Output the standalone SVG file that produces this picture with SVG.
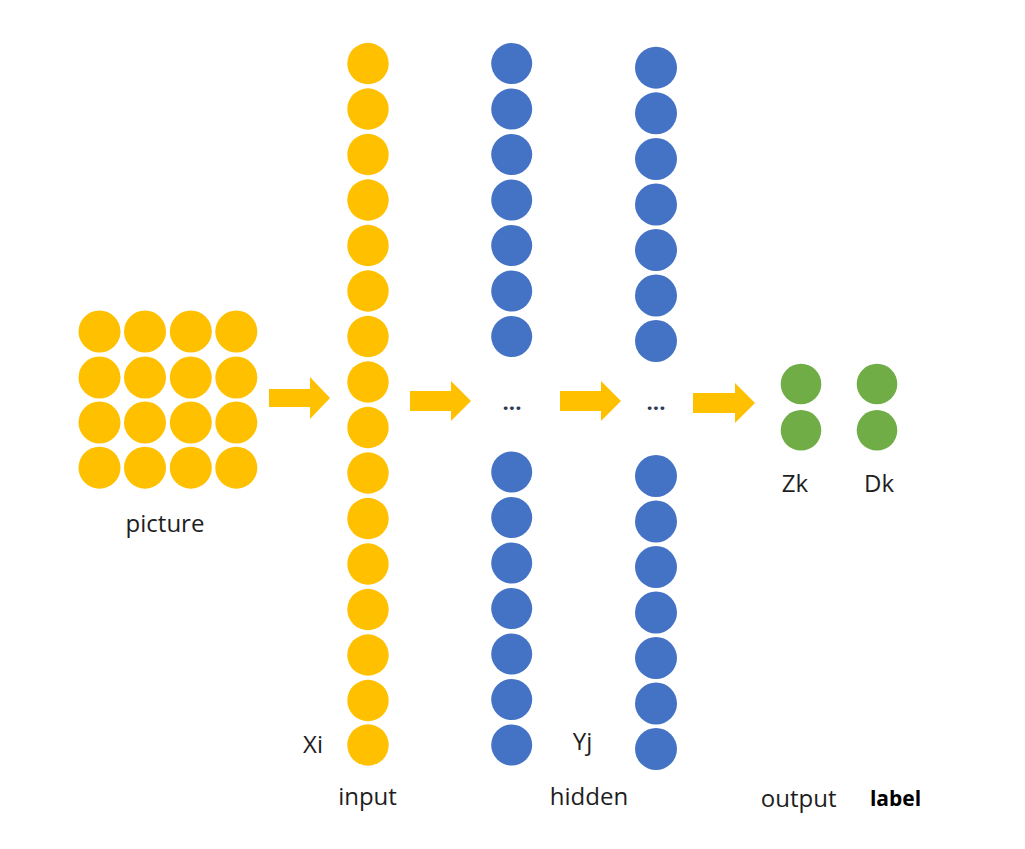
<svg xmlns="http://www.w3.org/2000/svg" width="1025" height="849" viewBox="0 0 1025 849">
<style>
.y{fill:#FFC000}
.b{fill:#4472C4}
.g{fill:#70AD47}
.t{font-family:"Open Sans","Noto Sans",sans-serif;font-size:24px;fill:#1e1e1e;text-anchor:middle}
.lb{font-family:"Open Sans","Liberation Sans",sans-serif;font-size:21px;font-weight:bold;fill:#000;text-anchor:middle}
.dots{font-family:"Open Sans","Noto Sans",sans-serif;font-size:22px;font-weight:bold;fill:#2f3a55;text-anchor:middle}
.ar{fill:#FFC000}
</style>
<rect width="1025" height="849" fill="#fff"/>
<g id="picture">
<circle class="y" cx="99.5" cy="331.5" r="21"/><circle class="y" cx="145" cy="331.5" r="21"/><circle class="y" cx="190.8" cy="331.5" r="21"/><circle class="y" cx="236.3" cy="331.5" r="21"/>
<circle class="y" cx="99.5" cy="377.5" r="21"/><circle class="y" cx="145" cy="377.5" r="21"/><circle class="y" cx="190.8" cy="377.5" r="21"/><circle class="y" cx="236.3" cy="377.5" r="21"/>
<circle class="y" cx="99.5" cy="422.5" r="21"/><circle class="y" cx="145" cy="422.5" r="21"/><circle class="y" cx="190.8" cy="422.5" r="21"/><circle class="y" cx="236.3" cy="422.5" r="21"/>
<circle class="y" cx="99.5" cy="467.7" r="21"/><circle class="y" cx="145" cy="467.7" r="21"/><circle class="y" cx="190.8" cy="467.7" r="21"/><circle class="y" cx="236.3" cy="467.7" r="21"/>
<text class="t" x="165" y="532">picture</text>
</g>
<g id="input">
<circle class="y" cx="368" cy="63.5" r="20.7"/><circle class="y" cx="368" cy="109" r="20.7"/><circle class="y" cx="368" cy="154.5" r="20.7"/><circle class="y" cx="368" cy="200" r="20.7"/>
<circle class="y" cx="368" cy="245.5" r="20.7"/><circle class="y" cx="368" cy="291" r="20.7"/><circle class="y" cx="368" cy="336.5" r="20.7"/><circle class="y" cx="368" cy="382" r="20.7"/>
<circle class="y" cx="368" cy="427.5" r="20.7"/><circle class="y" cx="368" cy="473" r="20.7"/><circle class="y" cx="368" cy="518.5" r="20.7"/><circle class="y" cx="368" cy="564" r="20.7"/>
<circle class="y" cx="368" cy="609.5" r="20.7"/><circle class="y" cx="368" cy="655" r="20.7"/><circle class="y" cx="368" cy="700.5" r="20.7"/><circle class="y" cx="368" cy="745" r="20.7"/>
<text class="t" x="313" y="753">Xi</text>
<text class="t" x="367.5" y="805">input</text>
</g>
<g id="hidden1">
<circle class="b" cx="511.7" cy="63.5" r="20.5"/><circle class="b" cx="511.7" cy="109" r="20.5"/><circle class="b" cx="511.7" cy="154.5" r="20.5"/><circle class="b" cx="511.7" cy="200" r="20.5"/>
<circle class="b" cx="511.7" cy="245.5" r="20.5"/><circle class="b" cx="511.7" cy="291" r="20.5"/><circle class="b" cx="511.7" cy="336.5" r="20.5"/>
<text class="dots" x="512" y="410">...</text>
<circle class="b" cx="511.7" cy="472" r="20.5"/><circle class="b" cx="511.7" cy="517.5" r="20.5"/><circle class="b" cx="511.7" cy="563" r="20.5"/><circle class="b" cx="511.7" cy="608.5" r="20.5"/>
<circle class="b" cx="511.7" cy="654" r="20.5"/><circle class="b" cx="511.7" cy="699.5" r="20.5"/><circle class="b" cx="511.7" cy="745" r="20.5"/>
</g>
<g id="hidden2">
<circle class="b" cx="656" cy="67.7" r="21"/><circle class="b" cx="656" cy="113.3" r="21"/><circle class="b" cx="656" cy="159" r="21"/><circle class="b" cx="656" cy="204.5" r="21"/>
<circle class="b" cx="656" cy="250" r="21"/><circle class="b" cx="656" cy="295.5" r="21"/><circle class="b" cx="656" cy="341" r="21"/>
<text class="dots" x="656" y="410">...</text>
<circle class="b" cx="656" cy="476" r="21"/><circle class="b" cx="656" cy="521.5" r="21"/><circle class="b" cx="656" cy="567" r="21"/><circle class="b" cx="656" cy="612.5" r="21"/>
<circle class="b" cx="656" cy="658" r="21"/><circle class="b" cx="656" cy="703.5" r="21"/><circle class="b" cx="656" cy="749" r="21"/>
<text class="t" x="582.5" y="750">Yj</text>
<text class="t" x="589" y="805">hidden</text>
</g>
<g id="output">
<circle class="g" cx="801" cy="384" r="20.3"/><circle class="g" cx="801" cy="430.3" r="20.3"/>
<text class="t" x="795" y="492">Zk</text>
<text class="t" x="798.7" y="807">output</text>
</g>
<g id="label">
<circle class="g" cx="877" cy="384" r="20.3"/><circle class="g" cx="877" cy="430.3" r="20.3"/>
<text class="t" x="879" y="492">Dk</text>
<text class="lb" x="895.5" y="806">label</text>
</g>
<g id="connectors">
<polygon class="ar" points="269,389 310,389 310,377 330,398 310,419 310,407 269,407"/>
<polygon class="ar" points="410,391 451,391 451,381 471,401 451,421 451,411 410,411"/>
<polygon class="ar" points="560,391 601,391 601,381 621,401 601,421 601,411 560,411"/>
<polygon class="ar" points="693,393 735,393 735,383 755,403 735,423 735,413 693,413"/>
</g>
</svg>
